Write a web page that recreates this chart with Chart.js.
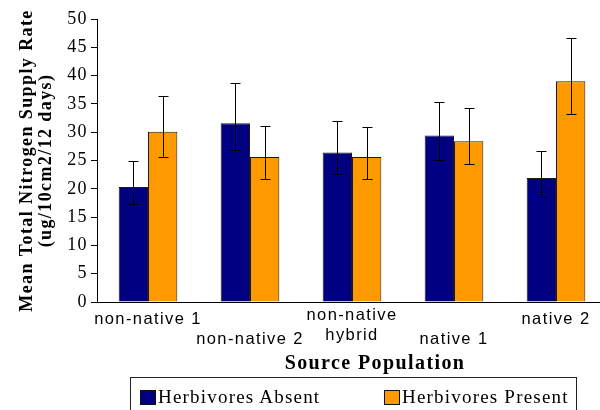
<!DOCTYPE html>
<html>
<head>
<meta charset="utf-8">
<script src="https://cdn.jsdelivr.net/npm/chart.js@4.4.1/dist/chart.umd.min.js"></script>
<style>
  html, body { margin: 0; padding: 0; background: #fff; overflow: hidden; width: 600px; height: 410px; }
  #wrap { position: relative; width: 607px; height: 410px; }
  #legend {
    position: absolute; left: 130px; top: 377px; width: 447px; height: 60px;
    border: 1px solid #222; box-sizing: border-box;
    font-family: "Liberation Serif", "Times New Roman", serif; font-size: 19px;
    letter-spacing: 1.2px; color: #000;
  }
  .swatch { position: absolute; top: 12px; width: 16px; height: 15px; border: 1px solid #111; box-sizing: border-box; }
  .label { position: absolute; top: 9px; line-height: 19px; white-space: nowrap; }
</style>
</head>
<body>
<div id="wrap">
  <canvas id="chart"></canvas>
  <div id="legend"></div>
</div>
<script>
"use strict"

// data
const categories = ["non-native 1", "non-native 2", ["non-native", "hybrid"], "native 1", "native 2"]
const seriesNames = ["Herbivores Absent", "Herbivores Present"]
const seriesColors = ["#000080", "#FF9900"]

const absentMeans = [20.3, 31.6, 26.4, 29.4, 21.9]
const absentHigh = [24.9, 38.7, 31.9, 35.4, 26.6]
const absentLow = [17.3, 26.9, 22.6, 25.1, 18.6]

const presentMeans = [30.1, 25.6, 25.6, 28.4, 39.0]
const presentHigh = [36.4, 31.1, 30.9, 34.2, 46.7]
const presentLow = [25.6, 21.8, 21.8, 24.3, 33.2]

const yMin = 0
const yMax = 50
const yStep = 5

const yTitle = ["Mean Total Nitrogen Supply Rate", "(ug/10cm2/12 days)"]
const xTitle = "Source Population"

// staggered category labels (thin line height, blank lines shift rows)
function tickLines(index) {
  const name = categories[index]
  if (Array.isArray(name)) return [name[0], "", "", "", "", name[1]]
  if (index % 2 === 1) return ["", "", "", "", "", "", name]
  return ["", name]
}

// canvas letter spacing, reset after every resize
const spacing = {
  id: "spacing",
  beforeLayout(chart) { chart.ctx.letterSpacing = "1.4px" },
  beforeDraw(chart) { chart.ctx.letterSpacing = "1.4px" },
}

// error bars from the low/high arrays
const errorBars = {
  id: "errorBars",
  afterDatasetsDraw(chart) {
    const ctx = chart.ctx
    const y = chart.scales.y
    ctx.save()
    ctx.strokeStyle = "#000"
    ctx.lineWidth = 1
    chart.data.datasets.forEach((ds, i) => {
      chart.getDatasetMeta(i).data.forEach((bar, j) => {
        const x = Math.round(bar.x) + 0.5
        const top = Math.round(y.getPixelForValue(ds.errHigh[j])) + 0.5
        const bottom = Math.round(y.getPixelForValue(ds.errLow[j])) + 0.5
        ctx.beginPath()
        ctx.moveTo(x, top)
        ctx.lineTo(x, bottom)
        ctx.moveTo(x - 5, top)
        ctx.lineTo(x + 5, top)
        ctx.moveTo(x - 5, bottom)
        ctx.lineTo(x + 5, bottom)
        ctx.stroke()
      })
    })
    ctx.restore()
  },
}

// x axis title sits a little right of the plot centre in the original
const xAxisTitle = {
  id: "xAxisTitle",
  afterDraw(chart) {
    const ctx = chart.ctx
    const area = chart.chartArea
    ctx.save()
    ctx.font = "bold 20px 'Liberation Serif', 'Times New Roman', serif"
    ctx.fillStyle = "#000"
    ctx.textAlign = "center"
    ctx.textBaseline = "alphabetic"
    ctx.fillText(xTitle, (area.left + area.right) / 2 + 23, 369)
    ctx.restore()
  },
}

const chart = new Chart(document.getElementById("chart"), {
  type: "bar",
  data: {
    labels: categories,
    datasets: [
      {
        label: seriesNames[0],
        data: absentMeans,
        errHigh: absentHigh,
        errLow: absentLow,
        backgroundColor: seriesColors[0],
        borderColor: "#1a1a1a",
        borderWidth: 1,
      },
      {
        label: seriesNames[1],
        data: presentMeans,
        errHigh: presentHigh,
        errLow: presentLow,
        backgroundColor: seriesColors[1],
        borderColor: "#1a1a1a",
        borderWidth: 1,
      },
    ],
  },
  options: {
    responsive: true,
    maintainAspectRatio: false,
    animation: false,
    layout: { padding: { top: 19, left: 0, right: 0, bottom: 0 } },
    datasets: { bar: { categoryPercentage: 0.575, barPercentage: 1 } },
    plugins: {
      legend: { display: false },
      tooltip: { enabled: false },
    },
    scales: {
      x: {
        afterFit(scale) { scale.height = 108 },
        grid: { display: false, drawTicks: false },
        border: { color: "#000", width: 1 },
        ticks: {
          autoSkip: false,
          maxRotation: 0,
          minRotation: 0,
          padding: 11,
          color: "#000",
          font: { family: "'Liberation Sans', Arial, sans-serif", size: 16.5, lineHeight: "4.1px" },
          callback: (value, index) => tickLines(index),
        },
      },
      y: {
        min: yMin,
        max: yMax,
        afterFit(scale) { scale.width = 97 },
        grid: { drawOnChartArea: false, color: "#000", tickLength: 6, lineWidth: 1 },
        border: { color: "#000", width: 1 },
        ticks: {
          stepSize: yStep,
          padding: 3,
          color: "#000",
          font: { family: "'Liberation Serif', 'Times New Roman', serif", size: 18 },
        },
        title: {
          display: true,
          text: yTitle,
          color: "#000",
          padding: { top: 18, bottom: 0 },
          font: { family: "'Liberation Serif', 'Times New Roman', serif", size: 18, weight: "bold", lineHeight: "19px" },
        },
      },
    },
  },
  plugins: [spacing, errorBars, xAxisTitle],
})

// legend box built from the series arrays
const legend = document.getElementById("legend")
const itemLeft = [9, 253]
seriesNames.forEach((name, i) => {
  const sw = document.createElement("div")
  sw.className = "swatch"
  sw.style.left = itemLeft[i] + "px"
  sw.style.background = seriesColors[i]
  legend.appendChild(sw)
  const tx = document.createElement("div")
  tx.className = "label"
  tx.style.left = itemLeft[i] + 18 + "px"
  tx.textContent = name
  legend.appendChild(tx)
})
</script>
</body>
</html>
